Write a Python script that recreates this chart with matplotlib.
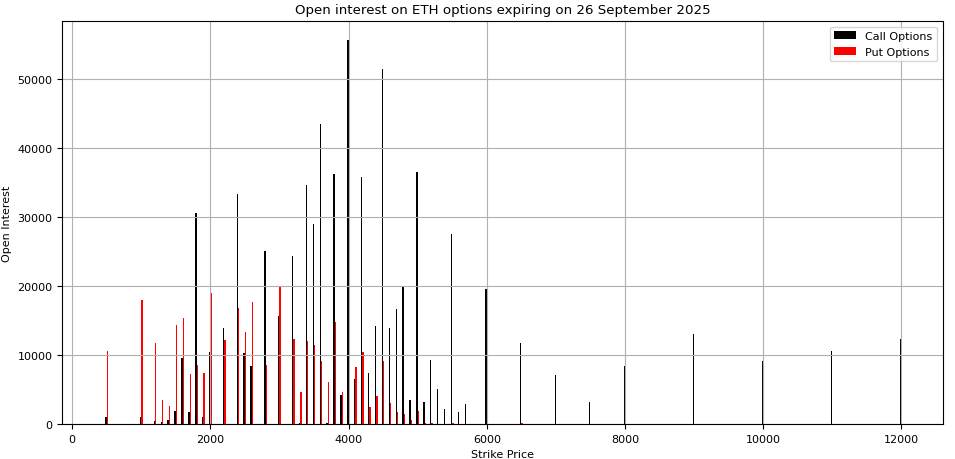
import matplotlib.pyplot as plt
import numpy as np

# strike prices and open interest
strikes = [500, 1000, 1200, 1300, 1400, 1500, 1600, 1700, 1800, 1900,
           2000, 2200, 2400, 2500, 2600, 2800, 3000, 3200, 3300, 3400,
           3500, 3600, 3700, 3800, 3900, 4000, 4100, 4200, 4300, 4400,
           4500, 4600, 4700, 4800, 4900, 5000, 5100, 5200, 5300, 5400,
           5500, 5600, 5700, 6000, 6500, 7000, 7500, 8000, 9000, 10000,
           11000, 12000]
calls = [1050, 1000, 450, 250, 600, 1850, 9600, 1750, 30600, 1050,
         10450, 13850, 33400, 10300, 8450, 25000, 15600, 24300, 100, 34600,
         29000, 43500, 150, 36200, 4200, 55600, 6500, 35800, 7350, 14250,
         51500, 13900, 16650, 19950, 3500, 36500, 3150, 9300, 5050, 2150,
         27600, 1700, 2900, 19550, 11800, 7100, 3200, 8450, 13100, 9200,
         10570, 12300]
puts = [10600, 18000, 11800, 3550, 2550, 14400, 15400, 7200, 8600, 7400,
        19050, 12200, 16750, 13400, 17700, 8550, 19950, 12300, 4600, 12100,
        11450, 9100, 6050, 14800, 4650, 18300, 8300, 10450, 2500, 4100,
        9150, 3000, 1700, 1450, 600, 1900, 150, 100, 0, 0,
        200, 0, 0, 0, 200, 0, 0, 0, 0, 0,
        0, 0]

x = np.array(strikes)
w = 20

fig, ax = plt.subplots(figsize=(9.55, 4.6), dpi=100)
fig.subplots_adjust(left=0.065, right=0.987, top=0.952, bottom=0.076)

ax.bar(x - w / 2, calls, width=w, color='black', label='Call Options')
ax.bar(x + w / 2, puts, width=w, color='red', label='Put Options')

ax.set_xlim(-145, 12595)
ax.set_title('Open interest on ETH options expiring on 26 September 2025', fontsize=9.6)
ax.set_xlabel('Strike Price', fontsize=8)
ax.set_ylabel('Open Interest', fontsize=8)
ax.tick_params(labelsize=8)
ax.grid(True)
ax.legend(loc='upper right', fontsize=8)

plt.savefig('out.png')
